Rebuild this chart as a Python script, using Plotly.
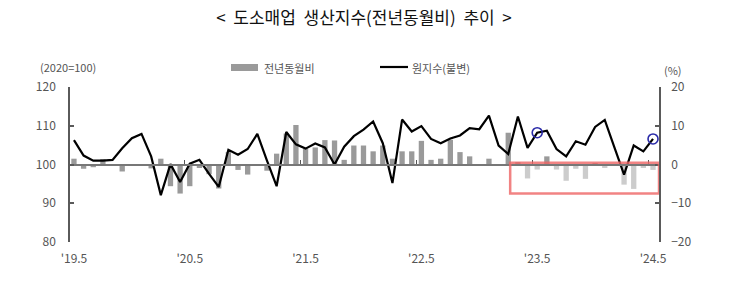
import plotly.graph_objects as go

# ---- data ----
months = []
y, m = 2019, 5
for _ in range(61):
    months.append(f"{y}-{m:02d}")
    m += 1
    if m > 12:
        m = 1
        y += 1

# 원지수(불변), 2020=100
index_values = [
    106.3, 102.3, 101.0, 101.0, 101.2, 104.2, 106.8, 107.9, 102.1, 92.1,
    100.1, 95.5, 100.2, 101.2, 97.6, 94.2, 103.8, 102.5, 104.0, 107.9,
    101.0, 94.4, 108.4, 105.2, 104.1, 105.4, 104.4, 100.0, 104.6, 107.3,
    109.0, 111.1, 105.5, 95.2, 111.6, 108.5, 109.9, 106.6, 105.5, 106.7,
    107.5, 109.4, 109.1, 112.6, 104.9, 102.7, 112.4, 104.3, 108.2, 108.7,
    104.0, 102.1, 106.0, 105.1, 109.7, 111.5, 104.4, 97.4, 104.9, 103.4,
    106.6,
]

# 전년동월비 (%)
yoy_values = [
    1.5, -1.1, -0.7, 1.4, -0.3, -1.8, -0.2, -0.2, -1.0, 1.5,
    -5.6, -7.5, -5.6, -0.9, -2.5, -6.2, 3.2, -1.4, -2.6, -0.2,
    -1.6, 2.8, 8.0, 10.2, 4.0, 4.4, 6.3, 6.2, 1.2, 4.9,
    4.9, 3.4, 4.9, 1.5, 3.4, 3.4, 6.1, 1.2, 1.5, 6.4,
    3.2, 2.1, 0.1, 1.5, 0.1, 8.2, 0.6, -3.6, -1.3, 2.1,
    -1.3, -4.2, -1.1, -3.7, 0.4, -0.9, 0.0, -5.2, -6.3, -0.9,
    -1.4,
]

tick_months = ["2019-05", "2020-05", "2021-05", "2022-05", "2023-05", "2024-05"]
tick_labels = ["'19.5", "'20.5", "'21.5", "'22.5", "'23.5", "'24.5"]
boundary_ticks = [11.5, 23.5, 35.5, 47.5, 59.5]
highlight_months = ["2023-05", "2024-05"]

title_text = "<\u00a0 도소매업\u00a0\u00a0생산지수(전년동월비)\u00a0\u00a0추이\u00a0 >"
bar_name = "전년동월비"
line_name = "원지수(불변)"

# ---- styling ----
FONT = "Noto Sans CJK KR, Noto Sans, sans-serif"
TXT = "#555555"
AX = "#5a5a5a"
DARK = "#9a9a9a"
LIGHT = "#cccccc"
highlight_start = 47
bar_colors = [LIGHT if (i >= highlight_start and v < 0) else DARK
              for i, v in enumerate(yoy_values)]

XR = [-0.41, 60.62]

fig = go.Figure()
fig.add_trace(go.Bar(x=months, y=yoy_values, marker_color=bar_colors,
                     marker_line_width=0, name=bar_name, showlegend=False,
                     xaxis="x", yaxis="y"))
fig.add_trace(go.Scatter(x=months, y=index_values, mode="lines",
                         line=dict(color="black", width=2.2),
                         name=line_name, showlegend=False,
                         xaxis="x", yaxis="y2"))
hl_idx = [months.index(mm) for mm in highlight_months]
fig.add_trace(go.Scatter(x=[months[i] for i in hl_idx],
                         y=[index_values[i] for i in hl_idx],
                         mode="markers",
                         marker=dict(symbol="circle-open", size=10,
                                     color="#2a2aa8", line=dict(width=1.6)),
                         showlegend=False, xaxis="x", yaxis="y2"))
# dummy trace so the crossing axis (x2) is drawn
fig.add_trace(go.Scatter(x=[None], y=[None], xaxis="x2", yaxis="y",
                         showlegend=False, hoverinfo="skip"))

shapes = []
# highlight rectangle
shapes.append(dict(type="rect", xref="x", yref="y",
                   x0=45.2, x1=XR[1], y0=-7.5, y1=0.45,
                   line=dict(color="rgba(238,100,100,0.8)", width=2.5),
                   fillcolor="rgba(0,0,0,0)", layer="above"))
# legend: bar
def px_x(px):
    return (px - 70) / 589.0
def px_y(py):
    return (242 - py) / 155.0
shapes.append(dict(type="rect", xref="paper", yref="paper",
                   x0=px_x(231), x1=px_x(258), y0=px_y(71), y1=px_y(64),
                   fillcolor=DARK, line=dict(width=0)))
shapes.append(dict(type="line", xref="paper", yref="paper",
                   x0=px_x(380), x1=px_x(408), y0=px_y(67), y1=px_y(67),
                   line=dict(color="black", width=2.2)))

annotations = [
    dict(text=bar_name, xref="paper", yref="paper", x=px_x(262), y=px_y(67.5),
         xanchor="left", yanchor="middle", showarrow=False,
         font=dict(family=FONT, size=11, color=TXT)),
    dict(text=line_name, xref="paper", yref="paper", x=px_x(410), y=px_y(67.5),
         xanchor="left", yanchor="middle", showarrow=False,
         font=dict(family=FONT, size=11, color=TXT)),
    dict(text="(2020=100)", xref="paper", yref="paper", x=px_x(68), y=px_y(67),
         xanchor="center", yanchor="middle", showarrow=False,
         font=dict(family=FONT, size=11, color=TXT)),
    dict(text="(%)", xref="paper", yref="paper", x=px_x(673), y=px_y(70),
         xanchor="center", yanchor="middle", showarrow=False,
         font=dict(family=FONT, size=11, color=TXT)),
]

fig.update_layout(
    width=741, height=302,
    margin=dict(l=70, r=82, t=87, b=60, pad=0),
    paper_bgcolor="white", plot_bgcolor="white",
    bargap=0.45,
    showlegend=False,
    title=dict(text=title_text, x=364 / 741, xanchor="center",
               y=1 - 18 / 302, yanchor="middle",
               font=dict(family=FONT, size=17, color="#111111")),
    font=dict(family=FONT, size=12, color=TXT),
    xaxis=dict(type="category", range=XR, tickmode="array",
               tickvals=tick_months, ticktext=tick_labels,
               showline=False, ticks="", showgrid=False, zeroline=False,
               ticklabelstandoff=8,
               tickfont=dict(family=FONT, size=12, color=TXT)),
    xaxis2=dict(overlaying="x", anchor="free", position=0.5, range=XR,
                showline=True, linecolor="#777777", linewidth=1.5,
                ticks="inside", ticklen=4, tickcolor="#555555", tickwidth=1.2,
                tickmode="array", tickvals=boundary_ticks,
                showticklabels=False, showgrid=False, zeroline=False),
    yaxis=dict(side="right", anchor="x", range=[-20, 20], tickvals=[-20, -10, 0, 10, 20],
               showline=True, linecolor=AX, linewidth=1.5,
               ticks="inside", ticklen=4, tickcolor=AX, tickwidth=1.5,
               showgrid=False, zeroline=False, ticklabelstandoff=8,
               tickfont=dict(family=FONT, size=12, color=TXT)),
    yaxis2=dict(side="left", overlaying="y", anchor="x", range=[80, 120],
                tickvals=[80, 90, 100, 110, 120],
                showline=True, linecolor=AX, linewidth=1.5,
                ticks="inside", ticklen=4, tickcolor=AX, tickwidth=1.5,
                showgrid=False, zeroline=False, ticklabelstandoff=10,
                tickfont=dict(family=FONT, size=12, color=TXT)),
    shapes=shapes,
    annotations=annotations,
)

fig.write_html("out.html")
